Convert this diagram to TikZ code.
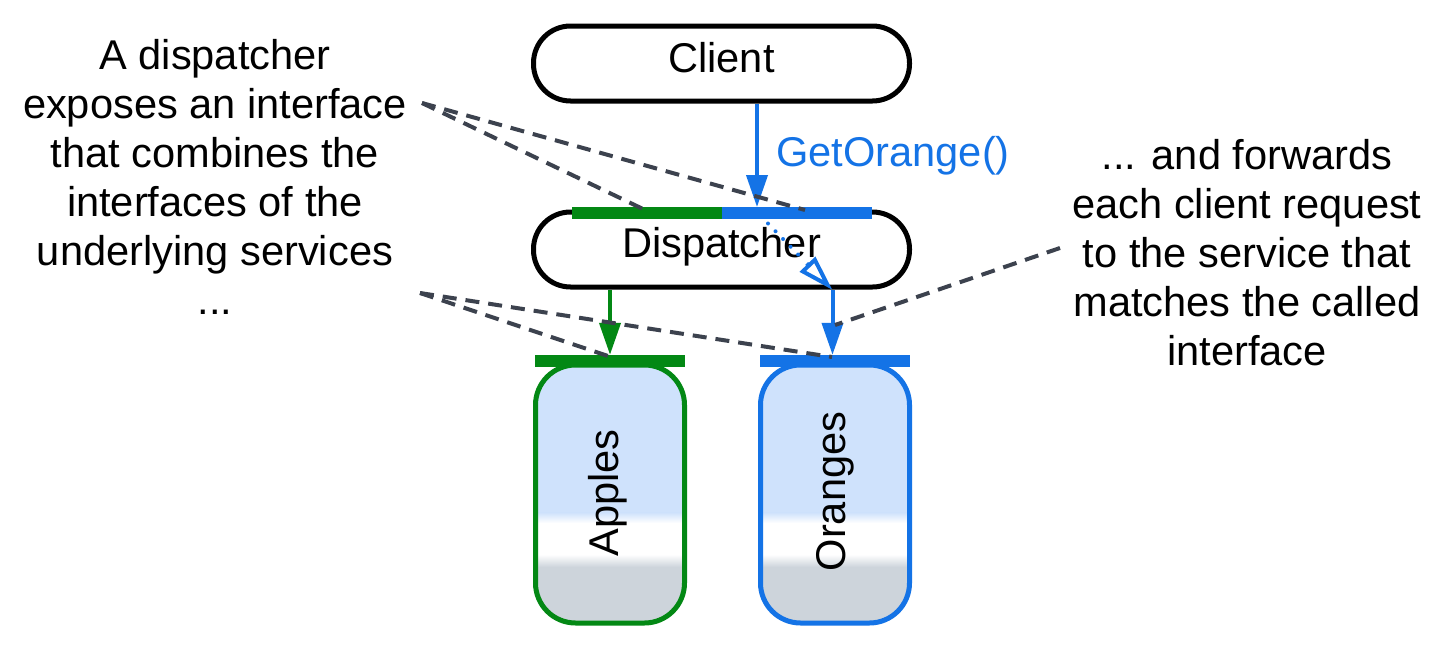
\documentclass[tikz,border=0pt]{standalone}
\usepackage{fontspec}
\setmainfont{Liberation Sans}
\usetikzlibrary{arrows.meta,calc}
\definecolor{cgreen}{RGB}{3,136,20}
\definecolor{cblue}{RGB}{20,115,230}
\definecolor{cdash}{RGB}{60,66,78}
\definecolor{lblue}{RGB}{207,226,252}
\definecolor{lgrey}{RGB}{205,212,219}
\tikzset{
  txt/.style={font=\fontsize{41.6}{49}\selectfont, inner sep=0pt},
  pill/.style={txt, draw=black, fill=white, line width=5pt, rounded corners=37pt,
    minimum width=376pt, minimum height=75pt},
  ifbar/.style={fill=#1, draw=none, inner sep=0pt, minimum width=150pt, minimum height=12pt},
  svc/.style={draw=#1, line width=5pt, rounded corners=40pt, inner sep=0pt,
    minimum width=149pt, minimum height=258pt,
    path picture={
      \begin{scope}[sharp corners]
      \path (path picture bounding box.north west) coordinate (pnw)
            (path picture bounding box.south east) coordinate (pse);
      \fill[lblue] (pnw) rectangle ($(pnw-|pse)+(0,148)$);
      \shade[top color=lblue, bottom color=white] ($(pnw)+(0,147.5)$) rectangle ($(pnw-|pse)+(0,158)$);
      \fill[white] ($(pnw)+(0,157.5)$) rectangle ($(pnw-|pse)+(0,190)$);
      \shade[top color=white, bottom color=lgrey] ($(pnw)+(0,189.5)$) rectangle ($(pnw-|pse)+(0,202)$);
      \fill[lgrey] ($(pnw)+(0,201.5)$) rectangle (pse);
      \end{scope}
    }},
  flow/.style={draw=#1, line width=4pt, -{Triangle[length=32pt,width=21pt]}},
  note/.style={draw=cdash, line width=4pt, dash pattern=on 14pt off 9pt},
}
\begin{document}
\begin{tikzpicture}[x=1pt,y=-1pt]
\useasboundingbox (0,0) rectangle (1451,653);
\fill[white] (0,0) rectangle (1451,653);

% text blocks
\node[txt, anchor=north, align=center] (lefttxt) at (215,34)
  {\rule{0pt}{35pt}A dispatcher\\exposes an interface\\that combines the\\interfaces of the\\underlying services\\...};
\node[txt, anchor=north, align=center] (righttxt) at (1247,134)
  {\rule{0pt}{35pt}... and forwards\\each client request\\to the service that\\matches the called\\interface};

% main boxes
\node[pill, text height=30pt, text depth=13pt] (client) at (721.5,63.5) {Client};
\node[pill, text height=28pt, text depth=13pt] (disp) at (721.5,249.5) {Dispatcher};
\node[ifbar=cgreen] (barG) at (647,213) {};
\node[ifbar=cblue] (barB) at (797,213) {};

% services
\node[svc=cgreen] (apples) at (610,494) {};
\node[svc=cblue] (oranges) at (835,494) {};
\node[txt, rotate=90, anchor=base] (applesT) at (618,493) {Apples};
\node[txt, rotate=90, anchor=base] (orangesT) at (845,491.5) {Oranges};
\node[ifbar=cgreen] (barA) at (610,361) {};
\node[ifbar=cblue] (barO) at (835,361) {};

% call
\coordinate (getIn) at (757,207);
\draw[flow=cblue] (client.south -| getIn) -- (getIn);
\node[txt, text=cblue, anchor=base west] (call) at (776,166) {GetOrange()};

% internal forwarding
\coordinate (disIn) at (768,223.5);
\coordinate (fwd) at (832.5,290);
\draw[cblue, line width=4pt, line cap=round, dash pattern=on 0pt off 10.8pt]
  (disIn) -- ($(fwd)!40pt!(disIn)$);
\draw[cblue, line width=4pt, -{Triangle[open,length=36pt,width=21pt]}]
  ($(fwd)!37pt!(disIn)$) -- (fwd);
\draw[flow=cblue] (fwd) -- (fwd |- barO.north);
\draw[flow=cgreen] (disp.south -| barA.north) -- (barA.north);

% annotation lines
\coordinate (l1) at (422,103);
\coordinate (l2) at (420,293);
\coordinate (r1) at (1060,248);
\coordinate (e1) at (643,209);
\coordinate (e2) at (805,210);
\coordinate (e3) at (608,356);
\coordinate (e4) at (832,357);
\coordinate (e5) at (835,325);
\draw[note] (l1) -- (e1);
\draw[note] (l1) -- (e2);
\draw[note] (l2) -- (e3);
\draw[note] (l2) -- (e4);
\draw[note] (r1) -- (e5);
\end{tikzpicture}
\end{document}
